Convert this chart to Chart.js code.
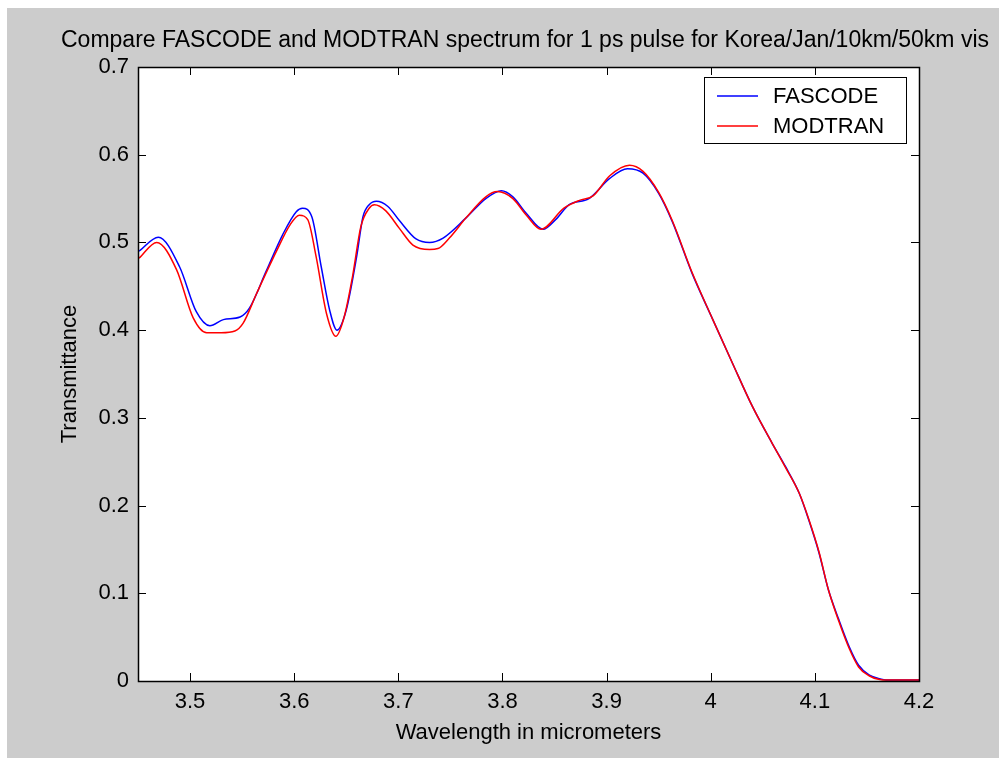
<!DOCTYPE html>
<html>
<head>
<meta charset="utf-8">
<script src="https://cdn.jsdelivr.net/npm/chart.js@4.4.1/dist/chart.umd.min.js"></script>
<style>
  html, body { margin: 0; padding: 0; background: #fff; }
  #wrap { width: 999px; height: 758px; }
</style>
</head>
<body>
<div id="wrap"><canvas id="chart" width="999" height="758"></canvas></div>
<script>
// values
let fascode_wl = [3.451, 3.4695, 3.490, 3.506, 3.519, 3.532, 3.548, 3.557, 3.573, 3.589, 3.602, 3.608, 3.617, 3.626, 3.634, 3.641, 3.650, 3.660, 3.666, 3.672, 3.679, 3.690, 3.701, 3.717, 3.730, 3.743, 3.765, 3.784, 3.799, 3.810, 3.823, 3.839, 3.851, 3.864, 3.883, 3.903, 3.920, 3.935, 3.950, 3.963, 3.982, 4.002, 4.021, 4.040, 4.059, 4.072, 4.085, 4.094, 4.104, 4.113, 4.123, 4.133, 4.142, 4.152, 4.161, 4.170, 4.200];
let fascode_tr = [0.490, 0.506, 0.472, 0.421, 0.405, 0.412, 0.415, 0.425, 0.467, 0.509, 0.535, 0.539, 0.529, 0.472, 0.423, 0.400, 0.423, 0.484, 0.529, 0.543, 0.547, 0.541, 0.525, 0.504, 0.500, 0.505, 0.528, 0.550, 0.559, 0.552, 0.533, 0.515, 0.526, 0.543, 0.550, 0.573, 0.584, 0.579, 0.556, 0.524, 0.465, 0.412, 0.362, 0.313, 0.271, 0.244, 0.214, 0.184, 0.146, 0.104, 0.070, 0.039, 0.018, 0.007, 0.003, 0.001, 0.001];

let modtran_wl = [3.451, 3.468, 3.487, 3.503, 3.516, 3.530, 3.543, 3.551, 3.564, 3.583, 3.596, 3.605, 3.613, 3.621, 3.631, 3.640, 3.648, 3.656, 3.664, 3.672, 3.677, 3.688, 3.701, 3.714, 3.730, 3.738, 3.749, 3.765, 3.784, 3.795, 3.810, 3.823, 3.837, 3.859, 3.874, 3.887, 3.903, 3.922, 3.935, 3.950, 3.963, 3.982, 4.002, 4.021, 4.040, 4.059, 4.072, 4.085, 4.094, 4.104, 4.113, 4.123, 4.133, 4.142, 4.152, 4.161, 4.170, 4.200];
let modtran_tr = [0.482, 0.500, 0.469, 0.414, 0.397, 0.397, 0.399, 0.408, 0.442, 0.490, 0.520, 0.531, 0.526, 0.484, 0.419, 0.393, 0.415, 0.461, 0.518, 0.539, 0.543, 0.536, 0.516, 0.497, 0.492, 0.493, 0.505, 0.528, 0.552, 0.558, 0.550, 0.531, 0.515, 0.539, 0.548, 0.553, 0.576, 0.588, 0.581, 0.557, 0.525, 0.466, 0.412, 0.362, 0.313, 0.271, 0.243, 0.214, 0.185, 0.147, 0.104, 0.068, 0.037, 0.016, 0.006, 0.002, 0.001, 0.001];

let x_ticks = [3.5, 3.6, 3.7, 3.8, 3.9, 4.0, 4.1, 4.2];
let y_ticks = [0, 0.1, 0.2, 0.3, 0.4, 0.5, 0.6, 0.7];

let chart_title = 'Compare FASCODE and MODTRAN spectrum for 1 ps pulse for Korea/Jan/10km/50km vis';
let font_family = '"Liberation Sans", Arial, Helvetica, sans-serif';
let grey = '#cccccc';

function toPoints(xs, ys){
    return xs.map((x, i) => ({x: x, y: ys[i]}));
}

// grey figure window, white axes
let backgroundPlugin = {
    id: 'figureBackground',
    beforeDraw(chart){
        let c = chart.ctx;
        let a = chart.chartArea;
        c.save();
        c.fillStyle = '#ffffff';
        c.fillRect(0, 0, chart.width, chart.height);
        c.fillStyle = grey;
        c.fillRect(7, 8, chart.width - 7, chart.height - 8);
        c.fillStyle = '#ffffff';
        c.fillRect(a.left, a.top, a.right - a.left, a.bottom - a.top);
        c.restore();
    }
};

// matlab style box with inward ticks, title and a boxed legend
let boxPlugin = {
    id: 'matlabBox',
    afterDraw(chart){
        let c = chart.ctx;
        let a = chart.chartArea;
        let xs = chart.scales.x;
        let ys = chart.scales.y;
        let len = 8;
        c.save();
        c.strokeStyle = '#000';
        c.lineWidth = 1;
        c.beginPath();
        x_ticks.forEach(v => {
            let px = Math.round(xs.getPixelForValue(v)) + 0.5;
            c.moveTo(px, a.bottom); c.lineTo(px, a.bottom - len);
            c.moveTo(px, a.top); c.lineTo(px, a.top + len);
        });
        y_ticks.forEach(v => {
            let py = Math.round(ys.getPixelForValue(v)) + 0.5;
            c.moveTo(a.left, py); c.lineTo(a.left + len, py);
            c.moveTo(a.right, py); c.lineTo(a.right - len, py);
        });
        c.stroke();
        c.lineWidth = 1.5;
        c.strokeRect(Math.round(a.left) + 0.5, Math.round(a.top) + 0.5, Math.round(a.right - a.left), Math.round(a.bottom - a.top));

        // title, centred over the axes box
        c.fillStyle = '#000';
        c.font = '23px ' + font_family;
        c.textAlign = 'center';
        c.textBaseline = 'alphabetic';
        c.fillText(chart_title, 525, 47);

        // legend
        let lx = 704, ly = 77, lw = 202, lh = 66;
        c.fillStyle = '#fff';
        c.fillRect(lx, ly, lw, lh);
        c.lineWidth = 1;
        c.strokeRect(lx + 0.5, ly + 0.5, lw, lh);
        c.font = '22px ' + font_family;
        c.textAlign = 'left';
        c.textBaseline = 'middle';
        let legendOrder = [1, 0];
        legendOrder.forEach((di, row) => {
            let ds = chart.data.datasets[di];
            let y = ly + 19 + row * 30;
            c.strokeStyle = ds.borderColor;
            c.lineWidth = 1.5;
            c.beginPath();
            c.moveTo(717, y); c.lineTo(758, y);
            c.stroke();
            c.fillStyle = '#000';
            c.fillText(ds.label, 773, y + 1);
        });
        c.restore();
    }
};

let ctx = document.getElementById('chart').getContext('2d');
let myChart = new Chart(ctx, {
    type: 'line',
    data: {
        datasets: [{
            label: 'MODTRAN',
            data: toPoints(modtran_wl, modtran_tr),
            borderColor: '#ff0000',
            borderWidth: 1.5,
            pointRadius: 0,
            cubicInterpolationMode: 'monotone',
            fill: false,
            order: 0
        }, {
            label: 'FASCODE',
            data: toPoints(fascode_wl, fascode_tr),
            borderColor: '#0000ff',
            borderWidth: 1.5,
            pointRadius: 0,
            cubicInterpolationMode: 'monotone',
            fill: false,
            order: 1
        }]
    },
    options: {
        responsive: false,
        animation: false,
        events: [],
        layout: { padding: { left: 0, right: 80, top: 67, bottom: 0 } },
        plugins: {
            legend: { display: false },
            tooltip: { enabled: false },
            title: { display: false }
        },
        scales: {
            x: {
                type: 'linear',
                min: 3.45,
                max: 4.2,
                grid: { display: false, drawTicks: false },
                border: { display: false },
                afterBuildTicks: (scale) => { scale.ticks = x_ticks.map(v => ({value: v})); },
                afterFit: (scale) => { scale.height = 77; },
                ticks: {
                    color: '#000',
                    padding: 8,
                    maxRotation: 0,
                    autoSkip: false,
                    font: { family: font_family, size: 22 },
                    callback: (v) => String(Math.round(v * 10) / 10)
                },
                title: {
                    display: true,
                    text: 'Wavelength in micrometers',
                    color: '#000',
                    font: { family: font_family, size: 22 },
                    padding: { top: 0, bottom: 12 }
                }
            },
            y: {
                type: 'linear',
                min: 0,
                max: 0.7,
                grid: { display: false, drawTicks: false },
                border: { display: false },
                afterBuildTicks: (scale) => { scale.ticks = y_ticks.map(v => ({value: v})); },
                afterFit: (scale) => { scale.width = 138; },
                ticks: {
                    color: '#000',
                    padding: 9,
                    autoSkip: false,
                    font: { family: font_family, size: 22 },
                    callback: (v) => String(Math.round(v * 10) / 10)
                },
                title: {
                    display: true,
                    text: 'Transmittance',
                    color: '#000',
                    font: { family: font_family, size: 22 },
                    padding: { top: 57, bottom: 0 }
                }
            }
        }
    },
    plugins: [backgroundPlugin, boxPlugin]
});
</script>
</body>
</html>
